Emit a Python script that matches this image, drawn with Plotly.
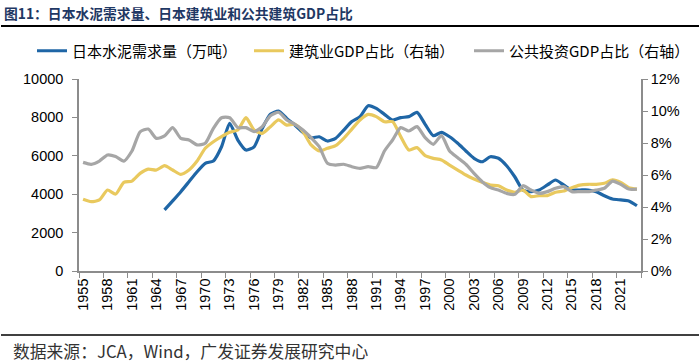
import plotly.graph_objects as go

years = list(range(1955, 2024))

cement = [None]*10 + [
    3180, 3650, 4130, 4650, 5170, 5610, 5730, 6470, 7690, 6820,   # 1965-1974
    6300, 6470, 7430, 8160, 8330, 7950, 7600, 7220, 6940, 6990,   # 1975-1984
    6770, 6910, 7340, 7780, 8040, 8610, 8470, 8160, 7860, 7990,   # 1985-1994
    8040, 8260, 7640, 7050, 7220, 6990, 6650, 6250, 5870, 5690,   # 1995-2004
    5950, 5870, 5480, 4910, 4220, 4130, 4220, 4480, 4740, 4480,   # 2005-2014
    4220, 4220, 4220, 4130, 3920, 3750, 3700, 3650, 3400          # 2015-2023
]

construction_gdp = [
    4.48, 4.33, 4.44, 5.06, 4.81, 5.54, 5.62, 6.10, 6.37, 6.31,   # 1955-1964
    6.58, 6.31, 6.04, 6.31, 6.87, 7.67, 8.08, 8.40, 8.67, 8.81,   # 1965-1974
    9.58, 8.81, 8.60, 9.02, 9.44, 9.12, 9.17, 8.71, 7.88, 7.50,   # 1975-1984
    7.67, 7.83, 8.29, 8.87, 9.44, 9.79, 9.65, 9.33, 9.33, 8.40,   # 1985-1994
    7.56, 7.71, 7.21, 7.04, 6.94, 6.62, 6.31, 6.00, 5.75, 5.54,   # 1995-2004
    5.37, 5.33, 5.06, 4.92, 5.06, 4.65, 4.71, 4.71, 4.92, 5.00,   # 2005-2014
    5.21, 5.37, 5.42, 5.42, 5.48, 5.69, 5.54, 5.21, 5.12          # 2015-2023
]

public_inv_gdp = [
    6.79, 6.67, 6.87, 7.25, 7.15, 6.87, 7.50, 8.70, 8.87, 8.29,   # 1955-1964
    8.44, 8.96, 8.29, 8.19, 7.88, 7.98, 8.92, 9.58, 9.58, 8.96,   # 1965-1974
    8.96, 8.71, 9.02, 9.71, 9.92, 9.44, 9.17, 8.81, 8.33, 7.77,   # 1975-1984
    6.73, 6.62, 6.67, 6.52, 6.42, 6.52, 6.46, 7.50, 8.19, 8.96,   # 1985-1994
    8.75, 9.02, 8.33, 7.92, 8.46, 7.50, 7.08, 6.67, 6.10, 5.58,   # 1995-2004
    5.21, 5.06, 4.85, 4.79, 5.33, 5.06, 4.85, 4.96, 5.17, 5.27,   # 2005-2014
    4.96, 4.96, 4.96, 5.06, 5.17, 5.62, 5.42, 5.12, 5.12          # 2015-2023
]

left_ticks = [0, 2000, 4000, 6000, 8000, 10000]
right_ticks = [0, 0.02, 0.04, 0.06, 0.08, 0.10, 0.12]
right_tick_text = ["0%", "2%", "4%", "6%", "8%", "10%", "12%"]
x_tick_years = list(range(1955, 2022, 3))

names = ["日本水泥需求量（万吨）", "建筑业GDP占比（右轴）", "公共投资GDP占比（右轴）"]
colors = ["#1F66A6", "#E9C95E", "#A6A6A6"]

fig = go.Figure()
fig.add_trace(go.Scatter(x=years, y=cement, name=names[0], mode="lines", legend="legend",
                         line=dict(color=colors[0], width=3.2, shape="spline", smoothing=0.6)))
fig.add_trace(go.Scatter(x=years, y=[v/100 for v in construction_gdp], name=names[1], mode="lines",
                         yaxis="y2", legend="legend2",
                         line=dict(color=colors[1], width=3.2, shape="spline", smoothing=0.6)))
fig.add_trace(go.Scatter(x=years, y=[v/100 for v in public_inv_gdp], name=names[2], mode="lines",
                         yaxis="y2", legend="legend3",
                         line=dict(color=colors[2], width=3.2, shape="spline", smoothing=0.6)))

L, R, T, B = 79, 59, 79, 92
W, H = 700, 363
pw, ph = W - L - R, H - T - B

def px(xpix):
    return (xpix - L) / pw

def py(ypix):
    return (H - B - ypix) / ph

axis_color = "#8C8C8C"
tick_font = dict(family="Liberation Sans, Arial", size=14.5, color="#000000")
legend_font = dict(family="Noto Sans CJK SC", size=15, color="#000000")

def legend_at(xpix):
    return dict(orientation="h", x=px(xpix), y=py(51), xanchor="left", yanchor="middle",
                font=legend_font, bgcolor="rgba(0,0,0,0)", itemwidth=30)

fig.update_layout(
    width=W, height=H,
    margin=dict(l=L, r=R, t=T, b=B, autoexpand=False),
    paper_bgcolor="white", plot_bgcolor="white",
    showlegend=True,
    legend=legend_at(32),
    legend2=legend_at(249),
    legend3=legend_at(469),
    xaxis=dict(range=[1954.5, 2023.5], tickmode="array", tickvals=x_tick_years,
               ticktext=[str(y) for y in x_tick_years], tickangle=-90,
               ticks="", showline=True, linecolor=axis_color, linewidth=1.5,
               showgrid=False, zeroline=False, tickfont=tick_font, automargin=False,
               minor=dict(ticks="outside", tick0=1954.5, dtick=3, ticklen=5,
                          tickcolor=axis_color, tickwidth=1.2, showgrid=False)),
    yaxis=dict(range=[0, 10000], tickmode="array", tickvals=left_ticks,
               ticktext=[str(v) for v in left_ticks], ticks="outside", ticklen=5,
               tickcolor=axis_color, tickwidth=1.2, automargin=False, ticklabelstandoff=6,
               showline=True, linecolor=axis_color, linewidth=1.5, showgrid=False,
               zeroline=False, tickfont=tick_font),
    yaxis2=dict(range=[0, 0.12], tickmode="array", tickvals=right_ticks, ticktext=right_tick_text,
                overlaying="y", automargin=False,
                side="right", ticks="outside", ticklen=5, tickcolor=axis_color, tickwidth=1.2,
                showline=True, linecolor=axis_color, linewidth=1.5, showgrid=False,
                zeroline=False, tickfont=tick_font),
)

fig.add_annotation(text="<b>图11：日本水泥需求量、日本建筑业和公共建筑GDP占比</b>",
                   xref="paper", yref="paper", x=px(2), y=py(13), xanchor="left", yanchor="middle",
                   showarrow=False,
                   font=dict(family="Noto Sans CJK SC", size=13.8, color="#1F3864"))
fig.add_annotation(text="数据来源：JCA，Wind，广发证券发展研究中心",
                   xref="paper", yref="paper", x=px(11), y=py(351), xanchor="left", yanchor="middle",
                   showarrow=False,
                   font=dict(family="Noto Sans CJK SC", size=16.8, color="#333333"))

fig.add_shape(type="line", xref="paper", yref="paper", x0=px(1), x1=px(699), y0=py(26), y1=py(26),
              line=dict(color="#000000", width=2))
fig.add_shape(type="line", xref="paper", yref="paper", x0=px(1), x1=px(699), y0=py(335), y1=py(335),
              line=dict(color="#000000", width=1.5))

fig.write_html("out.html", config={"displayModeBar": False},
               post_script="document.body.style.margin='0';document.body.style.padding='0';")
